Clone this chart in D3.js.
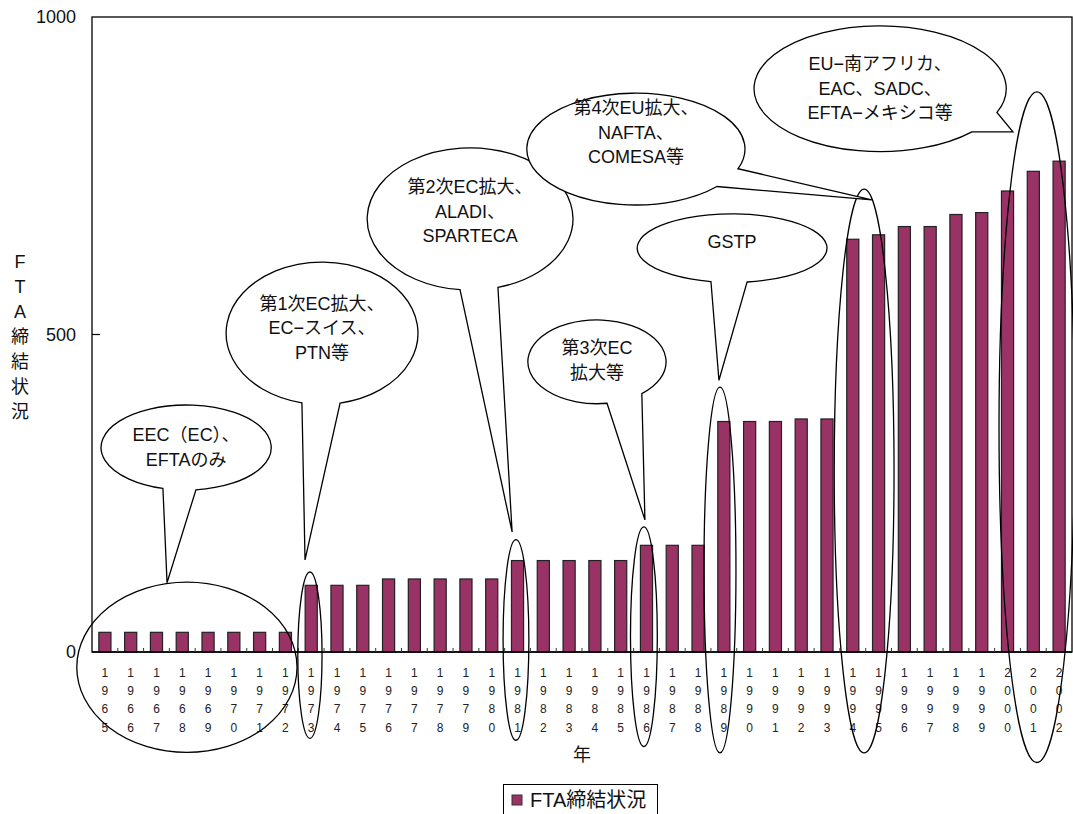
<!DOCTYPE html>
<html><head><meta charset="utf-8">
<script src="https://cdn.jsdelivr.net/npm/d3@7"></script>
<style>html,body{margin:0;padding:0;background:#fff;}svg{display:block;}</style>
</head><body>
<svg id="chart" width="1073" height="814"></svg>
<script>
// ---- data ----
const years = d3.range(1965, 2003);
const values = [31,31,31,31,31,31,31,31, 105,105,105, 115,115,115,115,115, 144,144,144,144,144, 168,168,168, 363,363,363, 367,367, 650,657,670,670,689,692,726,757,773];
const yTicks = [0, 500, 1000];
const seriesName = "FTA締結状況";
const yTitle = ["F","T","A","締","結","状","況"];
const xTitle = "年";

// highlight ellipses in data units: center year, center value, radius in years, radius in value
const highlights = [
  {cx:1968.18, cy:-24,  rx:4.27, ry:134},
  {cx:1972.95, cy:-5,   rx:0.47, ry:131},
  {cx:1980.94, cy:19,   rx:0.50, ry:158},
  {cx:1985.90, cy:24,   rx:0.52, ry:173},
  {cx:1988.85, cy:129,  rx:0.62, ry:288},
  {cx:1994.44, cy:285,  rx:1.16, ry:444},
  {cx:2001.14, cy:354,  rx:1.47, ry:528}
];
// callouts: ellipse (data units), wedge base x's (years, on lower half), tip (year,value), text lines
const callouts = [
  {cx:1968.15, cy:322, rx:3.30, ry:67,  b:[1967.25,1968.53], tip:[1967.41,109], ty:322, lines:["EEC（EC）、","EFTAのみ"]},
  {cx:1973.42, cy:502, rx:3.72, ry:112, b:[1972.64,1974.12], tip:[1972.76,145], ty:510, lines:["第1次EC拡大、","EC−スイス、","PTN等"]},
  {cx:1979.16, cy:682, rx:3.99, ry:112, b:[1978.77,1980.24], tip:[1980.79,189], ty:693, lines:["第2次EC拡大、","ALADI、","SPARTECA"]},
  {cx:1984.08, cy:457, rx:2.68, ry:66,  b:[1984.47,1985.82], tip:[1985.94,208], ty:459, lines:["第3次EC","拡大等"]},
  {cx:1989.32, cy:636, rx:3.68, ry:54,  b:[1988.50,1989.90], tip:[1988.81,428], ty:646, lines:["GSTP"]},
  {cx:1985.59, cy:792, rx:4.23, ry:88,  b:[1988.73,1989.55], tip:[1994.74,712], ty:818, lines:["第4次EU拡大、","NAFTA、","COMESA等"]},
  {cx:1995.06, cy:887, rx:4.89, ry:99,  b:[1998.62,1999.59], tip:[2000.21,819], ty:887, lines:["EU−南アフリカ、","EAC、SADC、","EFTA−メキシコ等"]}
];

// ---- layout ----
const FONT = '"Liberation Sans", Arial, "Noto Sans CJK JP", sans-serif';
const margin = {left:92, right:1072, top:17, bottom:652};
const svg = d3.select("#chart");

const x = d3.scaleBand().domain(years).range([margin.left, margin.right]).paddingInner(0.53).paddingOuter(0.265);
const xl = d3.scaleLinear().domain([1964.5, 2002.5]).range([margin.left, margin.right]);
const y = d3.scaleLinear().domain([0, 1000]).range([margin.bottom, margin.top]);
const pxPerYear = xl(1) - xl(0);
const pxPerVal = y(0) - y(1);

// plot frame
svg.append("rect").attr("x", margin.left).attr("y", margin.top)
  .attr("width", margin.right - margin.left).attr("height", margin.bottom - margin.top)
  .attr("fill", "none").attr("stroke", "#000").attr("stroke-width", 1.3);

// bars
svg.append("g").selectAll("rect").data(years).join("rect")
  .attr("x", d => x(d)).attr("width", x.bandwidth())
  .attr("y", (d,i) => y(values[i])).attr("height", (d,i) => y(0) - y(values[i]))
  .attr("fill", "#993366").attr("stroke", "#222").attr("stroke-width", 1.2);

// x axis line + ticks (inside)
const xAxis = svg.append("g");
xAxis.append("line").attr("x1", margin.left).attr("x2", margin.right)
  .attr("y1", y(0)).attr("y2", y(0)).attr("stroke", "#000").attr("stroke-width", 1.5);
xAxis.selectAll("line.t").data(d3.range(1, years.length)).join("line").attr("class","t")
  .attr("x1", i => xl(1964.5 + i)).attr("x2", i => xl(1964.5 + i))
  .attr("y1", y(0)).attr("y2", y(0) - 4).attr("stroke", "#333").attr("stroke-width", 1);
// x labels: stacked digits
years.forEach(yr => {
  const s = String(yr);
  const cxp = x(yr) + x.bandwidth() / 2;
  for (let k = 0; k < s.length; k++) {
    svg.append("text").attr("x", cxp).attr("y", 673 + k * 18.2)
      .attr("text-anchor", "middle").attr("dominant-baseline", "central")
      .attr("font-family", FONT).attr("font-size", 12).attr("fill", "#222").text(s[k]);
  }
});

// y axis ticks & labels
svg.append("g").selectAll("line").data(yTicks.filter(v => v > 0 && v < 1000)).join("line")
  .attr("x1", margin.left).attr("x2", margin.left + 8)
  .attr("y1", d => y(d)).attr("y2", d => y(d)).attr("stroke", "#000").attr("stroke-width", 1.2);
svg.append("g").selectAll("text").data(yTicks).join("text")
  .attr("x", 76).attr("y", d => y(d)).attr("text-anchor", "end").attr("dominant-baseline", "central")
  .attr("font-family", FONT).attr("font-size", 18).attr("fill", "#111").text(d => d);

// y title (vertical)
svg.append("g").selectAll("text").data(yTitle).join("text")
  .attr("x", 20).attr("y", (d,i) => 262 + i * 25).attr("text-anchor", "middle").attr("dominant-baseline", "central")
  .attr("font-family", FONT).attr("font-size", 18).attr("fill", "#111").text(d => d);

// x title
svg.append("text").attr("x", 582).attr("y", 755).attr("text-anchor", "middle").attr("dominant-baseline", "central")
  .attr("font-family", FONT).attr("font-size", 18).attr("fill", "#111").text(xTitle);

// highlight ellipses
svg.append("g").selectAll("ellipse").data(highlights).join("ellipse")
  .attr("cx", d => xl(d.cx)).attr("cy", d => y(d.cy))
  .attr("rx", d => d.rx * pxPerYear).attr("ry", d => d.ry * pxPerVal)
  .attr("fill", "none").attr("stroke", "#000").attr("stroke-width", 1.3);

// callouts
callouts.forEach(c => {
  const cx = xl(c.cx), cy = y(c.cy), rx = c.rx * pxPerYear, ry = c.ry * pxPerVal;
  const pts = c.b.map(bx => {
    const px = xl(bx);
    return Math.acos(Math.max(-1, Math.min(1, (px - cx) / rx))); // lower half
  }).sort((a,b) => a - b);
  const P = t => [cx + rx * Math.cos(t), cy + ry * Math.sin(t)];
  const p1 = P(pts[0]), p2 = P(pts[1]);
  const tip = [xl(c.tip[0]), y(c.tip[1])];
  const path = `M${p2[0]},${p2[1]} A${rx},${ry} 0 1 1 ${p1[0]},${p1[1]} L${tip[0]},${tip[1]} Z`;
  svg.append("path").attr("d", path).attr("fill", "#fff").attr("stroke", "#000").attr("stroke-width", 1.3);
  const n = c.lines.length, lh = 24.5;
  c.lines.forEach((ln, i) => {
    svg.append("text").attr("x", cx).attr("y", y(c.ty) + (i - (n - 1) / 2) * lh)
      .attr("text-anchor", "middle").attr("dominant-baseline", "central")
      .attr("font-family", FONT).attr("font-size", 18).attr("fill", "#111").text(ln);
  });
});

// legend
const lg = svg.append("g");
lg.append("rect").attr("x", 503.5).attr("y", 784.5).attr("width", 154).attr("height", 40)
  .attr("fill", "#fff").attr("stroke", "#000").attr("stroke-width", 1);
lg.append("rect").attr("x", 512).attr("y", 795).attr("width", 10).attr("height", 10)
  .attr("fill", "#993366").attr("stroke", "#333").attr("stroke-width", 1);
lg.append("text").attr("x", 530).attr("y", 800).attr("dominant-baseline", "central")
  .attr("font-family", FONT).attr("font-size", 20).attr("fill", "#111").text(seriesName);
</script>
</body></html>
